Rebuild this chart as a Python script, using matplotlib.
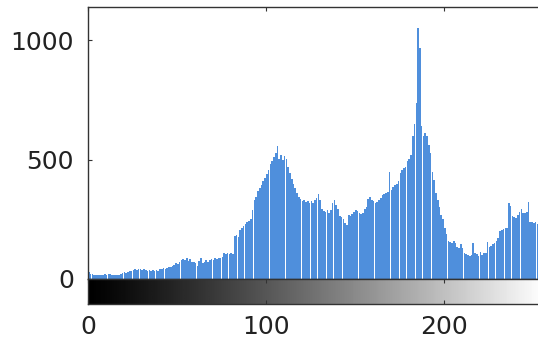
import numpy as np
import matplotlib
matplotlib.use("Agg")
from matplotlib import pyplot as plt

# histogram of grey levels 0..255
grey_levels = np.arange(256)
counts = [
    30, 22, 20, 18, 17, 18, 16, 18, 17, 19, 18, 20, 22, 18, 17, 15,
    16, 18, 20, 25, 28, 24, 30, 33, 35, 38, 40, 36, 42, 40, 38, 41,
    37, 35, 39, 33, 36, 34, 38, 35, 40, 42, 45, 44, 48, 52, 50, 55,
    60, 65, 62, 70, 78, 85, 80, 88, 75, 82, 70, 72, 68, 55, 74, 90,
    68, 72, 78, 70, 80, 82, 78, 88, 85, 90, 86, 92, 108, 104, 110, 106,
    108, 105, 180, 186, 178, 205, 212, 222, 230, 238, 242, 250, 290, 330, 345, 370,
    380, 395, 410, 425, 440, 455, 480, 495, 510, 530, 556, 505, 520, 500, 515, 505,
    470, 445, 420, 400, 380, 360, 345, 335, 325, 330, 322, 328, 320, 326, 318, 330,
    340, 355, 330, 295, 285, 280, 288, 278, 290, 320, 330, 310, 295, 262, 258, 250,
    235, 228, 270, 265, 272, 280, 288, 285, 278, 272, 276, 295, 300, 335, 345, 330,
    325, 318, 322, 332, 340, 350, 355, 360, 365, 448, 375, 385, 392, 400, 410, 445,
    455, 465, 470, 495, 505, 520, 600, 650, 736, 1050, 970, 640, 600, 610, 600, 560,
    530, 450, 415, 360, 330, 300, 270, 250, 215, 190, 160, 155, 152, 158, 150, 135,
    130, 148, 128, 110, 105, 100, 95, 102, 150, 110, 105, 98, 112, 100, 108, 110,
    155, 135, 140, 145, 150, 160, 170, 200, 205, 210, 212, 215, 318, 305, 262, 258,
    255, 270, 280, 293, 278, 275, 280, 322, 240, 238, 235, 240, 232, 236, 230, 225,
]
y_ticks = [0, 500, 1000]
x_ticks = [0, 100, 200]

plt.rcParams['font.family'] = ['DejaVu Sans']

W, H = 538, 343
fig = plt.figure(figsize=(W / 100, H / 100), dpi=100)

left = 88 / W
width = 256 * 1.78 / W
hist_ax = fig.add_axes([left, (H - 279) / H, width, 272 / H])
bar_ax = fig.add_axes([left, (H - 304) / H, width, 25 / H])

hist_ax.bar(grey_levels, counts, width=0.92, align='edge', color='#4f8fdc', linewidth=0)
hist_ax.set_xlim(0, 256)
hist_ax.set_ylim(0, 1140)
hist_ax.set_yticks(y_ticks)
hist_ax.set_xticks(x_ticks)
hist_ax.tick_params(axis='y', direction='in', length=3, pad=10, labelsize=18,
                    labelcolor='#222222', color='#333333')
hist_ax.tick_params(axis='x', direction='in', length=3, top=True, bottom=False,
                    labelbottom=False, color='#333333')
for spine in hist_ax.spines.values():
    spine.set_color('#333333')
    spine.set_linewidth(1)

# grey ramp under the histogram, a little darker at the low end like the scan
ramp = (np.linspace(0, 1, 256) ** 1.15).reshape(1, -1)
bar_ax.imshow(ramp, cmap='gray', aspect='auto', extent=[0, 256, 0, 1], vmin=0, vmax=1)
bar_ax.set_xlim(0, 256)
bar_ax.set_yticks([])
bar_ax.set_xticks(x_ticks)
bar_ax.tick_params(axis='x', direction='in', length=3, top=True, pad=8,
                   labelsize=18, labelcolor='#222222', color='#333333')
for spine in bar_ax.spines.values():
    spine.set_color('#333333')
    spine.set_linewidth(1)

fig.savefig("out.png", dpi=100)
